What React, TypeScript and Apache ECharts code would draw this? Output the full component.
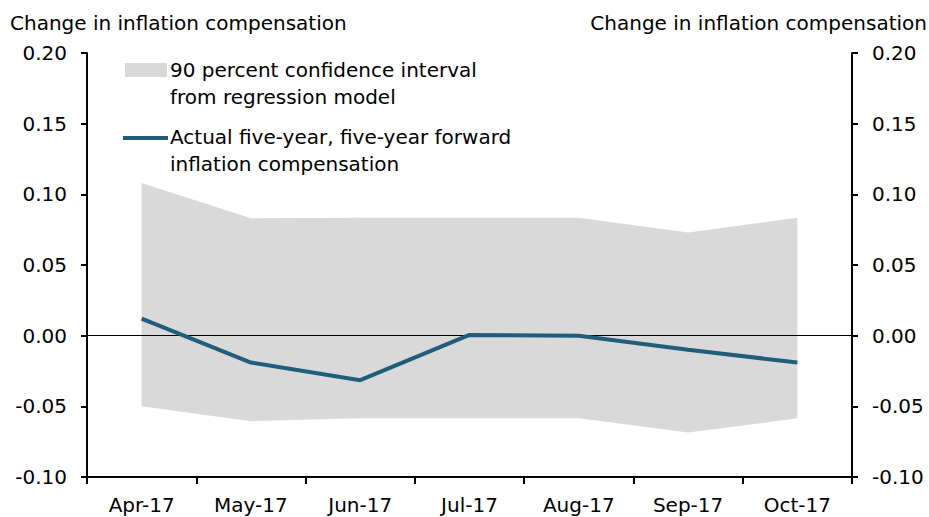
import React, { useEffect, useRef } from "react";
import * as echarts from "echarts";

const categories = ["Apr-17", "May-17", "Jun-17", "Jul-17", "Aug-17", "Sep-17", "Oct-17"];
const upperBound = [0.108, 0.083, 0.0835, 0.0835, 0.0835, 0.073, 0.0835];
const lowerBound = [-0.05, -0.0605, -0.0585, -0.0585, -0.0585, -0.0685, -0.0585];
const actualComp = [0.012, -0.019, -0.0315, 0.0005, 0.0, -0.01, -0.019];
const yMin = -0.1;
const yMax = 0.2;
const yStep = 0.05;

const axisTitle = "Change in inflation compensation";
const bandLegend = ["90 percent confidence interval", "from regression model"];
const lineLegend = ["Actual five-year, five-year forward", "inflation compensation"];

const FONT = "DejaVu Sans";
const LINE_COLOR = "#1f5d7b";
const BAND_COLOR = "#d9d9d9";

export default function App() {
  const ref = useRef<HTMLDivElement>(null);
  useEffect(() => {
    if (!ref.current) return;
    const chart = echarts.init(ref.current, undefined, { renderer: "svg" });
    const bandDiff = upperBound.map((u, i) => +(u - lowerBound[i]).toFixed(5));
    const yAxisCommon = {
      type: "value" as const,
      min: yMin,
      max: yMax,
      interval: yStep,
      splitLine: { show: false },
      axisLine: { show: true, lineStyle: { color: "#000", width: 2 } },
      axisTick: { show: true, length: 6, lineStyle: { color: "#000", width: 2 } },
      axisLabel: {
        color: "#000",
        fontFamily: FONT,
        fontSize: 20,
        margin: 20,
        formatter: (v: number) => v.toFixed(2),
      },
    };
    const textStyle = (x: number, y: number, text: string, align = "left") => ({
      type: "text",
      x,
      y,
      style: {
        text,
        fill: "#000",
        font: `20px "${FONT}"`,
        textAlign: align,
        textVerticalAlign: "middle",
      },
    });
    chart.setOption({
      animation: false,
      backgroundColor: "#fff",
      grid: { left: 87, right: 77, top: 53, bottom: 40, containLabel: false },
      xAxis: {
        type: "category",
        data: categories,
        boundaryGap: true,
        axisLine: { show: true, onZero: false, lineStyle: { color: "#000", width: 2 } },
        axisTick: { show: true, length: 7, lineStyle: { color: "#000", width: 2 } },
        axisLabel: { color: "#000", fontFamily: FONT, fontSize: 20, margin: 18 },
        splitLine: { show: false },
      },
      yAxis: [
        { ...yAxisCommon, position: "left" },
        { ...yAxisCommon, position: "right" },
      ],
      series: [
        {
          name: "lower",
          type: "line",
          data: lowerBound,
          stack: "band",
          stackStrategy: "all",
          symbol: "none",
          lineStyle: { opacity: 0 },
          silent: true,
          z: 1,
        },
        {
          name: "90 percent confidence interval from regression model",
          type: "line",
          data: bandDiff,
          stack: "band",
          stackStrategy: "all",
          symbol: "none",
          lineStyle: { opacity: 0 },
          areaStyle: { color: BAND_COLOR, opacity: 1 },
          silent: true,
          z: 1,
        },
        {
          name: "Actual five-year, five-year forward inflation compensation",
          type: "line",
          data: actualComp,
          symbol: "none",
          lineStyle: { color: LINE_COLOR, width: 4 },
          z: 3,
          markLine: {
            silent: true,
            symbol: ["none", "none"],
            label: { show: false },
            lineStyle: { color: "#000", width: 1, type: "solid" },
            data: [{ yAxis: 0 }],
            z: 2,
          },
        },
      ],
      graphic: [
        textStyle(10, 23, axisTitle),
        textStyle(927, 23, axisTitle, "right"),
        {
          type: "rect",
          shape: { x: 125, y: 63, width: 42, height: 14 },
          style: { fill: BAND_COLOR },
        },
        textStyle(170, 70, bandLegend[0]),
        textStyle(170, 97, bandLegend[1]),
        {
          type: "line",
          shape: { x1: 123, y1: 138, x2: 168, y2: 138 },
          style: { stroke: LINE_COLOR, lineWidth: 4 },
        },
        textStyle(170, 137, lineLegend[0]),
        textStyle(170, 164, lineLegend[1]),
      ],
    });
    return () => chart.dispose();
  }, []);
  return (
    <div
      ref={ref}
      style={{ position: "fixed", left: 0, top: 0, width: 929, height: 517 }}
    />
  );
}
